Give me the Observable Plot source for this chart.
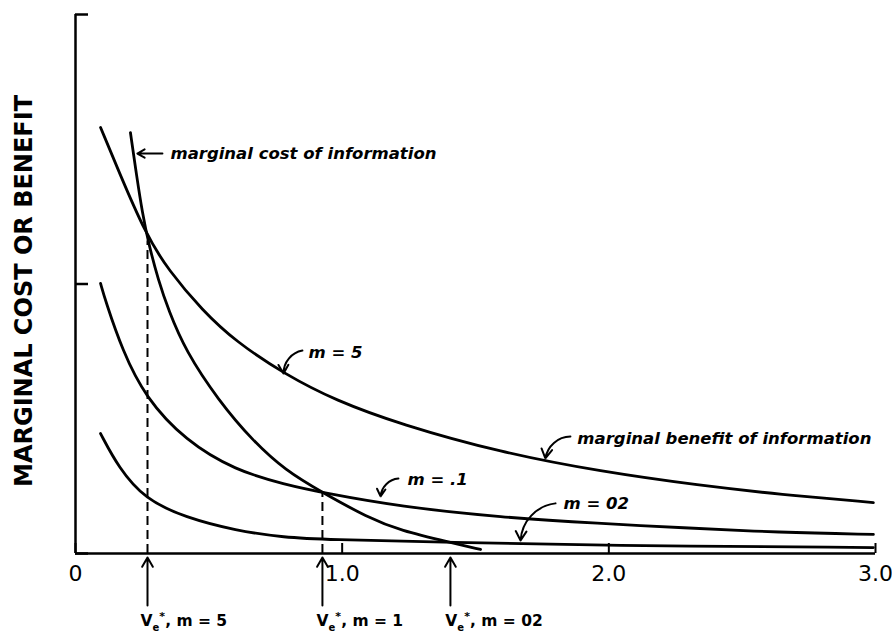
<!DOCTYPE html>
<html><head><meta charset="utf-8">
<script src="https://cdn.jsdelivr.net/npm/d3@7"></script>
<script src="https://cdn.jsdelivr.net/npm/@observablehq/plot@0.6"></script>
<style>body{margin:0;background:#fff} svg{display:block}</style>
</head><body><div id="chart"></div>
<script>
// Curves (x = information, y = marginal cost/benefit)
const costX = [0.206,0.229,0.251,0.274,0.311,0.349,0.412,0.536,0.664,0.787,0.926,1.095,1.219,1.406,1.519];
const costY = [1.562,1.403,1.262,1.150,1.013,0.902,0.753,0.568,0.419,0.308,0.226,0.134,0.085,0.041,0.015];
const b5X = [0.094,0.161,0.262,0.349,0.476,0.600,0.787,0.975,1.219,1.594,1.969,2.343,2.643,2.992];
const b5Y = [1.581,1.421,1.187,1.050,0.902,0.787,0.664,0.568,0.479,0.375,0.304,0.252,0.219,0.189];
const b1X = [0.094,0.112,0.176,0.262,0.412,0.600,0.787,0.926,1.219,1.594,1.969,2.268,2.643,2.992];
const b1Y = [1.002,0.939,0.753,0.579,0.419,0.308,0.256,0.226,0.174,0.134,0.111,0.096,0.078,0.071];
const b02X = [0.094,0.161,0.262,0.412,0.600,0.787,0.937,1.406,1.969,2.992];
const b02Y = [0.445,0.319,0.200,0.134,0.085,0.059,0.052,0.041,0.030,0.022];

// Optimal points V*
const vStarX = [0.27, 0.926, 1.406];
const vStarCrossY = [1.16, 0.226, 0.041];
const vStarLabels = ["V*e, m = 5", "V*e, m = 1", "V*e, m = 02"];
const vStarLabelX = [0.244, 0.904, 1.387];

// Axis ticks
const xTicks = [0, 1, 2, 3];
const xTickLabels = ["0", "1.0", "2.0", "3.0"];
const yTicks = [0, 1, 2];
const yTitle = "MARGINAL COST OR BENEFIT";

// Annotations
const noteText = ["marginal cost of information", "m = 5", "marginal benefit of information", "m = .1", "m = 02"];
const noteX = [0.356, 0.874, 1.882, 1.245, 1.830];
const noteY = [1.484, 0.746, 0.427, 0.275, 0.186];
const arrowX1 = [0.851, 1.856, 1.211, 1.800];
const arrowY1 = [0.753, 0.434, 0.278, 0.186];
const arrowX2 = [0.780, 1.762, 1.144, 1.669];
const arrowY2 = [0.668, 0.353, 0.212, 0.048];
const costArrow = {x1: 0.326, y1: 1.484, x2: 0.232, y2: 1.484};

const series = [
  ["cost", costX, costY], ["m5", b5X, b5Y], ["m1", b1X, b1Y], ["m02", b02X, b02Y]
];
const rows = series.flatMap(([name, xs, ys]) => xs.map((x, i) => ({series: name, x, y: ys[i]})));
const idxArrows = arrowX1.map((_, i) => i);
const idxV = vStarX.map((_, i) => i);

const chart = Plot.plot({
  width: 892, height: 634,
  marginLeft: 75, marginRight: 17, marginTop: 14, marginBottom: 81,
  x: {domain: [0, 3]},
  y: {domain: [0, 2]},
  style: {fontFamily: "DejaVu Sans", background: "white", color: "black", overflow: "visible"},
  marks: [
    Plot.ruleY([0], {x1: 0, x2: 3, strokeWidth: 2.5}),
    Plot.ruleX([0], {y1: 0, y2: 2, strokeWidth: 2.5}),
    Plot.axisY({ticks: yTicks, tickSize: -13, tickFormat: () => "", label: null, strokeWidth: 2.5}),
    Plot.axisX({ticks: xTicks, tickSize: -10, tickFormat: () => "", label: null, strokeWidth: 2}),
    Plot.axisX({ticks: xTicks, tickSize: 0, tickPadding: 12, fontSize: 22, label: null,
      tickFormat: d => xTickLabels[xTicks.indexOf(d)]}),
    Plot.text([yTitle], {frameAnchor: "left", textAnchor: "middle", rotate: -90, dx: -51, dy: 7, fontSize: 24, fontWeight: "bold"}),
    Plot.ruleX(idxV.slice(0, 2), {x: i => vStarX[i], y1: 0, y2: i => vStarCrossY[i], strokeDasharray: "9,5", strokeWidth: 2}),
    Plot.line(rows, {x: "x", y: "y", z: "series", curve: "basis", strokeWidth: 2.8}),
    Plot.arrow([costArrow], {x1: "x1", y1: "y1", x2: "x2", y2: "y2", strokeWidth: 2, headLength: 8}),
    Plot.arrow(idxArrows, {x1: i => arrowX1[i], y1: i => arrowY1[i], x2: i => arrowX2[i], y2: i => arrowY2[i], bend: -40, strokeWidth: 2, headLength: 8}),
    Plot.text(noteText, {x: (d, i) => noteX[i], y: (d, i) => noteY[i], text: d => d, textAnchor: "start",
      fontSize: 16.5, fontWeight: "bold", fontStyle: "italic"}),
    Plot.arrow(idxV, {x1: i => vStarX[i], x2: i => vStarX[i], y1: -0.193, y2: -0.015, strokeWidth: 2, headLength: 8}),
    Plot.text(idxV, {x: i => vStarLabelX[i], y: -0.25, text: i => vStarLabels[i], textAnchor: "start", fontSize: 15.5, fontWeight: "bold"})
  ]
});

d3.select(chart).selectAll("text").filter(function() { return this.textContent.startsWith("V*e"); })
  .each(function() {
    const rest = this.textContent.slice(3);
    const t = d3.select(this);
    t.text(null);
    t.append("tspan").text("V");
    t.append("tspan").attr("dy", 5).attr("font-size", 10).text("e");
    t.append("tspan").attr("dy", -11).attr("font-size", 11).text("*");
    t.append("tspan").attr("dy", 6).text(rest);
  });

document.getElementById("chart").appendChild(chart);
</script>
</body></html>
